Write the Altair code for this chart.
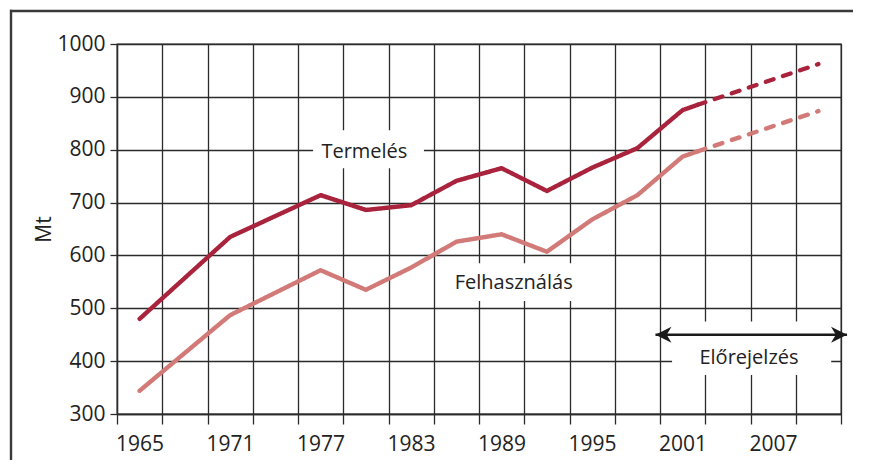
import altair as alt
import pandas as pd

# --- data ---
termeles_years = [1965, 1971, 1977, 1980, 1983, 1986, 1989, 1992, 1995, 1998, 2001, 2002]
termeles_vals = [480, 635, 714, 686, 695, 741, 765, 722, 766, 803, 875, 885]
felh_years = [1965, 1971, 1977, 1980, 1983, 1986, 1989, 1992, 1995, 1998, 2001, 2002]
felh_vals = [344, 487, 572, 535, 577, 626, 640, 607, 668, 714, 787, 797]
forecast_years = [2002, 2010]
termeles_forecast = [885, 962]
felh_forecast = [797, 873]

series_names = ["Termelés", "Felhasználás"]
series_colors = ["#a9233c", "#d27a78"]

x_tick_values = [1963.5 + 3 * k for k in range(17)]
y_tick_values = [300, 400, 500, 600, 700, 800, 900, 1000]

# annotation labels (text, x-year, y-value) and their white backgrounds
label_texts = ["Termelés", "Felhasználás", "Előrejelzés"]
label_x = [1979.9, 1989.8, 2005.4]
label_y = [796, 548, 406]
box_x1 = [1976.5, 1985.4, 2000.3]
box_x2 = [1983.85, 1994.4, 2010.85]
box_y1 = [765, 514, 374]
box_y2 = [837, 585, 475]
arrow_start, arrow_end, arrow_level = 1999.2, 2011.9, 450

rows = []
for y, v in zip(termeles_years, termeles_vals):
    rows.append({"year": y, "value": v, "series": series_names[0], "seg": "tény"})
for y, v in zip(forecast_years, termeles_forecast):
    rows.append({"year": y, "value": v, "series": series_names[0], "seg": "előrejelzés"})
for y, v in zip(felh_years, felh_vals):
    rows.append({"year": y, "value": v, "series": series_names[1], "seg": "tény"})
for y, v in zip(forecast_years, felh_forecast):
    rows.append({"year": y, "value": v, "series": series_names[1], "seg": "előrejelzés"})
lines_df = pd.DataFrame(rows)

labels_df = pd.DataFrame({"text": label_texts, "year": label_x, "value": label_y})
boxes_df = pd.DataFrame({"x1": box_x1, "x2": box_x2, "y1": box_y1, "y2": box_y2})
arrow_df = pd.DataFrame({"x1": [arrow_start], "x2": [arrow_end], "y": [arrow_level]})
frame_df = pd.DataFrame({"a": [0]})

xs = alt.Scale(domain=[1963.5, 2011.5], nice=False, zero=False)
ys = alt.Scale(domain=[300, 1000], nice=False, zero=False)

x_axis = alt.Axis(
    values=x_tick_values,
    tickSize=10,
    labelPadding=9,
    labelOffset=22.6,
    labelExpr="((datum.value - 1963.5) % 6 == 0 && datum.value < 2010) ? toString(datum.value + 1.5) : ''",
    labelOverlap=False,
    labelBound=False,
    labelFlush=False,
    grid=True,
    title="",
)
y_axis = alt.Axis(
    values=y_tick_values,
    format="d",
    tickSize=7,
    labelPadding=5,
    grid=True,
    title="Mt",
    titleFontWeight="normal",
    titleFontSize=21,
    titleFont="Open Sans",
    titleColor="#222222",
    titlePadding=2,
)


def X(field):
    return alt.X(field, type="quantitative", scale=xs, axis=x_axis)


def Y(field):
    return alt.Y(field, type="quantitative", scale=ys, axis=y_axis)


boxes = alt.Chart(boxes_df).mark_rect(color="white").encode(
    x=X("x1"), x2="x2", y=Y("y1"), y2="y2"
)

lines = alt.Chart(lines_df).mark_line(strokeWidth=4.4, strokeCap="round", strokeJoin="round").encode(
    x=X("year"),
    y=Y("value"),
    color=alt.Color("series:N", scale=alt.Scale(domain=series_names, range=series_colors), legend=None),
    strokeDash=alt.StrokeDash(
        "seg:N",
        scale=alt.Scale(domain=["tény", "előrejelzés"], range=[[1, 0], [8, 10]]),
        legend=None,
    ),
)

texts = alt.Chart(labels_df).mark_text(
    font="Open Sans", fontSize=20, color="#222222", align="center", baseline="middle"
).encode(x=X("year"), y=Y("value"), text="text:N")

arrow_line = alt.Chart(arrow_df).mark_rule(color="#1a1a1a", strokeWidth=2.6).encode(
    x=X("x1"), x2="x2", y=Y("y")
)
head_left = alt.Chart(arrow_df).mark_point(
    shape="M0,0 L2,-1 L1.4,0 L2,1 Z", filled=True, size=256, color="#1a1a1a", opacity=1, strokeWidth=0
).encode(x=X("x1"), y=Y("y"))
head_right = alt.Chart(arrow_df).mark_point(
    shape="M0,0 L-2,-1 L-1.4,0 L-2,1 Z", filled=True, size=256, color="#1a1a1a", opacity=1, strokeWidth=0
).encode(x=X("x2"), y=Y("y"))

# frame: filled bars kept inside the drawing area (top and left edges only)
frame_top = alt.Chart(frame_df).mark_rect(color="#3a3a3a", strokeWidth=0).encode(
    x=alt.value(-107), x2=alt.value(736), y=alt.value(-34.2), y2=alt.value(-31.8)
)
frame_left = alt.Chart(frame_df).mark_rect(color="#3a3a3a", strokeWidth=0).encode(
    x=alt.value(-107.2), x2=alt.value(-104.8), y=alt.value(-34.2), y2=alt.value(416)
)

chart = (
    alt.layer(boxes, lines, texts, arrow_line, head_left, head_right, frame_top, frame_left)
    .properties(
        width=724,
        height=370,
        autosize=alt.AutoSizeParams(type="none"),
        padding={"left": 109, "top": 36, "right": 12, "bottom": 46},
        background="white",
    )
    .configure_view(stroke="#2b2b2b", strokeWidth=1.3)
    .configure_axis(
        gridColor="#2b2b2b",
        gridWidth=1.3,
        gridOpacity=1,
        domainColor="#2b2b2b",
        domainWidth=1.3,
        tickColor="#2b2b2b",
        tickWidth=1.3,
        labelFont="Open Sans",
        labelFontSize=21,
        labelColor="#222222",
    )
)

chart.save("out.html", embed_options={"renderer": "svg", "actions": False})
